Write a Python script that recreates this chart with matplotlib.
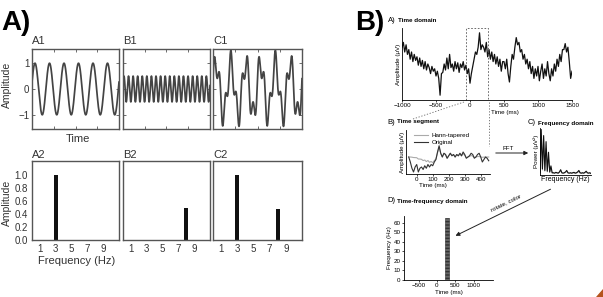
import numpy as np
import matplotlib
matplotlib.use("Agg")
import matplotlib.pyplot as plt
from matplotlib.lines import Line2D
from matplotlib.patches import Polygon, FancyArrowPatch

W, H = 603, 297
plt.rcParams['font.family'] = ['Liberation Sans', 'DejaVu Sans']

# ---------------- Panel A data ----------------
wave_labels = ["A1", "B1", "C1"]
spec_labels = ["A2", "B2", "C2"]
wave_cycles_per_s = [3.0, 9.5]          # drawn sine waves (A1, B1)
wave_amplitudes = [1.0, 0.5]
c1_components_hz = [3.0, 8.0]
c1_component_amps = [1.0, 0.5]
spec_freqs = [[3], [8], [3, 8]]
spec_amps = [[1.0], [0.5], [1.0, 0.48]]
amp_ticks = [-1, 0, 1]
freq_ticks = [1, 3, 5, 7, 9]
power_ticks = [0.0, 0.2, 0.4, 0.6, 0.8, 1.0]

# ---------------- Panel B data ----------------
eeg_uv = [14, 18, 10, 16, 8,
          12, 4, 10, 2, 8,
          3, 6, -1, 5, -2,
          3, -4, 2, -5, 0,
          -3, -8, -2, -6, -4,
          -10, -6, -12, -26, -8,
          -7, 0, -5, 5, -4,
          8, -3, 0, -6, 2,
          -4, 1, -7, 0, -3,
          2, -5, -1, -8, -4,
          -16, -8, -2, 4, 10,
          8, 14, 26, 12, 16,
          14, 10, 18, 6, 12,
          4, 10, 2, 8, 0,
          6, -2, 4, -6, 2,
          2, -4, 4, -8, -15,
          -2, 8, 4, 14, 22,
          16, 18, 10, 12, 4,
          8, 0, 4, -4, 2,
          -8, -2, -12, -4, -10,
          -2, -14, -6, 0, -12,
          -4, -10, 2, -8, -14,
          -4, -10, 0, -6, 4,
          -2, 8, 2, 12, 12,
          17, 10, 14, 2, -12,
          -6]
eeg_ticks = [-1000, -500, 0, 500, 1000, 1500]

segment_uv = [0, -4, -9, -12, -8, -6, -12, -9, -8, -10,
              -7, -9, -6, -8, -6, -7, -4, -2, 4, 9,
              3, 0, 3, 2, -1, 1, 3, 1, 2, 0,
              2, 1, 3, 1, 4, 2, -1, 0, 1, 3,
              2, -1, 0, 2, 3, 0, -4, -2, 0, -1,
              -3]
segment_ticks = [0, 100, 200, 300, 400]

spectrum_power = [3, 60, 8, 52, 6, 44, 5, 30, 4, 12,
                  3, 3, 2.5, 3.5, 3, 2.5, 4, 7, 3, 2.5,
                  3, 4, 6, 3, 2.5, 3, 2.5, 3, 3.5, 2.5,
                  3, 4, 6, 3, 2.5, 3, 2.5, 3.5, 5, 3,
                  2.5, 3, 2]

tf_window_ms = [230, 320]
tf_freq_max = 65
tf_xticks = [-500, 0, 500, 1000]
tf_yticks = [0, 10, 20, 30, 40, 50, 60]

fig = plt.figure(figsize=(6.03, 2.97), dpi=100)


def ax_px(l, t, r, b):
    return fig.add_axes([l / W, 1 - b / H, (r - l) / W, (b - t) / H])


def fxy(x, y):
    return (x / W, 1 - y / H)


FRAME = '#555555'
TXT = '#333333'

# ---------------- Panel A ----------------
t = np.linspace(0, 2, 1200)
phase = 0.27
w_a = wave_amplitudes[0] * np.sin(2 * np.pi * wave_cycles_per_s[0] * t + phase)
w_b = wave_amplitudes[1] * np.sin(2 * np.pi * wave_cycles_per_s[1] * t + phase)
w_c = sum(a * np.sin(2 * np.pi * f * t + phase)
          for f, a in zip(c1_components_hz, c1_component_amps))
waves = [w_a, w_b, w_c]

xs = [(32, 119), (123, 210), (213, 302)]
for i, (l, r) in enumerate(xs):
    ax = ax_px(l, 49, r, 129)
    ax.plot(t, waves[i], color='#444444', lw=1.25)
    ax.set_xlim(0, 2)
    ax.set_ylim(-1.55, 1.55)
    ax.set_yticks(amp_ticks)
    ax.set_xticks([0.5, 1.0, 1.5])
    ax.tick_params(direction='in', length=2, width=0.6, color=FRAME,
                   top=True, right=True, labelbottom=False,
                   labelleft=(i == 0), labelsize=7, labelcolor=TXT, pad=2)
    for s in ax.spines.values():
        s.set_color(FRAME)
        s.set_linewidth(1.0)
    fig.text(l / W, 1 - 41 / H, wave_labels[i], fontsize=8, color=TXT,
             ha='left', va='center')

    ax2 = ax_px(l, 161, r, 240)
    ax2.bar(spec_freqs[i], spec_amps[i], width=0.45, color='#111111')
    ax2.set_xlim(0, 11)
    ax2.set_ylim(0, 1.22)
    ax2.set_xticks(freq_ticks)
    ax2.set_yticks(power_ticks)
    ax2.set_yticklabels([f"{v:.1f}" for v in power_ticks])
    ax2.tick_params(direction='in', length=0, width=0.6, color=FRAME,
                    labelleft=(i == 0), labelsize=7, labelcolor=TXT, pad=3)
    for s in ax2.spines.values():
        s.set_color(FRAME)
        s.set_linewidth(1.0)
    fig.text(l / W, 1 - 155 / H, spec_labels[i], fontsize=8, color=TXT,
             ha='left', va='center')

fig.text(1 / W, 1 - 23 / H, "A)", fontsize=20, fontweight='bold',
         ha='left', va='center')
fig.text(78 / W, 1 - 139 / H, "Time", fontsize=8, color=TXT,
         ha='center', va='center')
fig.text(7 / W, 1 - 85 / H, "Amplitude", fontsize=7.5, color=TXT,
         rotation=90, ha='center', va='center')
fig.text(7 / W, 1 - 203 / H, "Amplitude", fontsize=7.5, color=TXT,
         rotation=90, ha='center', va='center')
fig.text(38 / W, 1 - 261 / H, "Frequency (Hz)", fontsize=8, color=TXT,
         ha='left', va='center')

# ---------------- Panel B ----------------
SM = 4.5
fig.text(355 / W, 1 - 23 / H, "B)", fontsize=20, fontweight='bold',
         ha='left', va='center')

# A) Time domain
fig.text(388 / W, 1 - 20 / H, "A)", fontsize=5.5, ha='left', va='center')
fig.text(398 / W, 1 - 20 / H, "Time domain", fontsize=SM, fontweight='bold',
         ha='left', va='center')
axt = ax_px(402, 28, 572, 100)
te = np.linspace(-1000, 1500, len(eeg_uv))
axt.plot(te, eeg_uv, color='#111111', lw=0.9)
axt.set_xlim(-1000, 1500)
axt.set_ylim(-30, 30)
axt.set_xticks(eeg_ticks)
axt.set_yticks([])
axt.tick_params(labelsize=SM, length=1.5, width=0.5, pad=1)
for s in ['top', 'right']:
    axt.spines[s].set_visible(False)
for s in ['left', 'bottom']:
    axt.spines[s].set_linewidth(0.6)
axt.set_ylabel("Amplitude (\u03bcV)", fontsize=SM, labelpad=1)
axt.plot([-60, -60, 265, 265], [-30, 30, 30, -30], ls=(0, (2, 2)),
         color='#555555', lw=0.6, clip_on=False)
fig.text(505 / W, 1 - 113 / H, "Time (ms)", fontsize=SM, ha='center',
         va='center')

# dotted zoom lines
fig.add_artist(Line2D([464 / W, 413 / W], [1 - 102 / H, 1 - 119 / H],
                      ls=(0, (1.5, 2)), color='#666666', lw=0.6))
fig.add_artist(Line2D([489 / W, 489 / W], [1 - 102 / H, 1 - 146 / H],
                      ls=(0, (1.5, 2)), color='#666666', lw=0.6))

# B) Time segment
fig.text(387 / W, 1 - 122 / H, "B)", fontsize=5.5, ha='left', va='center')
fig.text(397 / W, 1 - 122 / H, "Time segment", fontsize=SM,
         fontweight='bold', ha='left', va='center')
axs = ax_px(406, 130, 490, 174)
ts = np.linspace(-50, 450, len(segment_uv))
seg = np.array(segment_uv, dtype=float)
hann_tapered = seg * np.hanning(len(seg))
axs.plot(ts, hann_tapered, color='#aaaaaa', lw=0.8, label='Hann-tapered')
axs.plot(ts, seg, color='#333333', lw=0.8, label='Original')
axs.set_xlim(-67, 458)
axs.set_ylim(-13.6, 21.6)
axs.set_xticks(segment_ticks)
axs.set_yticks([])
axs.tick_params(labelsize=SM, length=1.5, width=0.5, pad=1)
for s in ['top', 'right']:
    axs.spines[s].set_visible(False)
for s in ['left', 'bottom']:
    axs.spines[s].set_linewidth(0.6)
axs.set_ylabel("Amplitude (\u03bcV)", fontsize=SM, labelpad=1)
axs.legend(loc='upper left', bbox_to_anchor=(0.05, 1.02), fontsize=SM,
           frameon=False, handlelength=2.2, handletextpad=0.6,
           labelspacing=0.2, borderpad=0.1)
fig.text(433 / W, 1 - 185 / H, "Time (ms)", fontsize=SM, ha='center',
         va='center')

# FFT arrow
fig.add_artist(FancyArrowPatch(fxy(493, 153), fxy(531, 153),
                               transform=fig.transFigure, arrowstyle='-|>',
                               mutation_scale=6, lw=0.7, color='#222222'))
fig.text(508 / W, 1 - 148 / H, "FFT", fontsize=SM, ha='center',
         va='center')

# C) Frequency domain
fig.text(528 / W, 1 - 123 / H, "C)", fontsize=5.5, ha='left', va='center')
fig.text(538 / W, 1 - 123 / H, "Frequency domain", fontsize=SM,
         fontweight='bold', ha='left', va='center')
axf = ax_px(540, 128, 591, 175)
fr = np.arange(len(spectrum_power))
pw = np.array(spectrum_power, dtype=float)
axf.plot(fr, pw * 0.8, color='#aaaaaa', lw=0.6)
axf.plot(fr, pw, color='#111111', lw=0.8)
axf.set_xlim(0, len(spectrum_power) - 1)
axf.set_ylim(0, 62)
axf.set_xticks([])
axf.set_yticks([])
for s in ['top', 'right']:
    axf.spines[s].set_visible(False)
for s in ['left', 'bottom']:
    axf.spines[s].set_linewidth(0.6)
axf.set_ylabel("Power (\u03bcV\u00b2)", fontsize=SM, labelpad=1)
axf.set_xlabel("Frequency (Hz)", fontsize=5, labelpad=1)

# rotate, color arrow
fig.add_artist(FancyArrowPatch(fxy(553, 188), fxy(453, 237),
                               transform=fig.transFigure, arrowstyle='-|>',
                               mutation_scale=6, lw=0.7, color='#222222'))
fig.text(506 / W, 1 - 203 / H, "rotate, color", fontsize=SM, rotation=26,
         ha='center', va='center')

# D) Time-frequency domain
fig.text(387 / W, 1 - 201 / H, "D)", fontsize=5.5, ha='left', va='center')
fig.text(397 / W, 1 - 201 / H, "Time-frequency domain", fontsize=SM,
         fontweight='bold', ha='left', va='center')
axd = ax_px(404, 216, 493, 280)
axd.bar([(tf_window_ms[0] + tf_window_ms[1]) / 2], [tf_freq_max],
        width=tf_window_ms[1] - tf_window_ms[0], color='#666666',
        edgecolor='#333333', lw=0.4, hatch='-----')
axd.set_xlim(-900, 1530)
axd.set_ylim(0, 67)
axd.set_xticks(tf_xticks)
axd.set_yticks(tf_yticks)
axd.tick_params(labelsize=SM, length=1.5, width=0.5, pad=1)
for s in ['top', 'right']:
    axd.spines[s].set_visible(False)
for s in ['left', 'bottom']:
    axd.spines[s].set_linewidth(0.6)
axd.set_ylabel("Frequency (Hz)", fontsize=SM, labelpad=1)
axd.set_xlabel("Time (ms)", fontsize=SM, labelpad=1)

# corner triangle
fig.add_artist(Polygon([fxy(596, 297), fxy(603, 297), fxy(603, 289)],
                       closed=True, transform=fig.transFigure,
                       color='#b5541c'))

fig.savefig("out.png", dpi=100)
